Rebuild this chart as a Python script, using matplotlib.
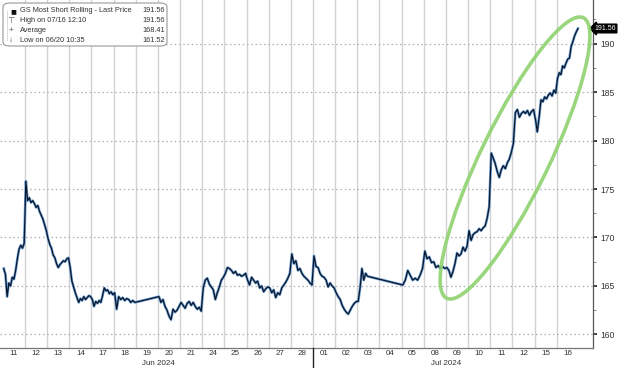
import matplotlib
matplotlib.use("Agg")
import matplotlib.pyplot as plt
from matplotlib.patches import Ellipse, FancyBboxPatch
import matplotlib.transforms as mtransforms

plt.rcParams['font.family'] = ['Liberation Sans', 'DejaVu Sans']

# ---------------- data ----------------
day_labels = ["11", "12", "13", "14", "17", "18", "19", "20", "21", "24", "25", "26", "27", "28",
              "01", "02", "03", "04", "05", "08", "09", "10", "11", "12", "15", "16"]
month_labels = ["Jun 2024", "Jul 2024"]
month_first_day = [0, 14]

jun11 = [166.8, 166.2, 163.9, 165.3, 165.0, 165.9, 165.7, 166.6, 167.8, 168.8, 169.2, 168.9, 169.4]
jun12 = [175.8, 173.8, 174.1, 173.6, 173.8, 173.5, 173.1, 173.3, 172.7, 172.3, 171.9, 171.3, 170.7]
jun13 = [169.9, 169.3, 168.9, 168.2, 167.9, 167.3, 166.9, 167.2, 167.4, 167.6, 167.5, 167.8, 167.9]
jun14 = [166.9, 165.5, 164.9, 164.3, 163.8, 163.3, 163.7, 163.5, 163.9, 163.6, 163.8, 164.0, 163.9]
jun17 = [163.6, 162.9, 163.4, 163.2, 163.5, 163.3, 164.0, 164.8, 164.5, 164.6, 164.2, 164.4, 164.1]
jun18 = [164.3, 162.6, 163.9, 163.6, 163.8, 163.5, 163.7, 163.6, 163.3, 163.5, 163.3]
jun19 = []
jun20 = [163.9, 163.3, 163.6, 162.9, 162.5, 161.9, 161.52, 162.6, 162.3, 162.5, 162.9]
jun21 = [163.3, 163.0, 162.7, 163.2, 163.4, 163.0, 163.3, 162.9, 162.6, 162.8, 162.4]
jun24 = [164.8, 165.6, 165.8, 165.2, 164.9, 164.6, 163.6, 164.3, 164.9, 165.6, 165.9]
jun25 = [166.3, 166.9, 166.8, 166.6, 166.3, 166.5, 166.1, 166.2, 166.0, 166.1, 166.3]
jun26 = [165.6, 165.1, 165.9, 165.6, 165.3, 165.5, 164.8, 165.0, 164.4, 164.7, 164.9]
jun27 = [164.8, 164.3, 164.6, 163.8, 164.3, 164.1, 164.8, 165.1, 165.4, 165.8, 166.3]
jun28 = [168.3, 167.3, 167.6, 166.6, 166.8, 166.3, 166.0, 165.8, 165.6, 165.3, 165.1]
jul01 = [168.1, 167.0, 166.9, 166.3, 166.0, 165.9, 165.6, 164.9, 165.3, 165.0, 164.8]
jul02 = [164.3, 163.9, 163.6, 163.0, 162.6, 162.3, 162.1, 162.5, 162.9, 163.2, 163.4]
jul03 = [163.4, 164.8, 166.8, 165.6, 166.3, 166.0]
jul04 = []
jul05 = [165.1, 165.6, 166.6, 166.1, 165.6, 165.8, 165.6, 166.1, 166.8]
jul08 = [168.6, 167.8, 168.0, 167.4, 167.5, 166.9, 167.1, 166.8, 167.0, 166.8]
jul09 = [166.9, 166.6, 165.9, 166.5, 167.3, 168.4, 168.1, 168.3, 169.0, 168.6, 169.1]
jul10 = [170.7, 169.7, 170.3, 170.5, 170.6, 170.9, 170.7, 171.0, 171.2, 172.0, 173.2]
jul11 = [178.7, 178.2, 177.6, 176.8, 176.2, 177.0, 177.4, 177.1, 177.7, 178.1, 178.8]
jul12 = [179.7, 182.9, 183.2, 182.4, 182.8, 183.0, 182.8, 183.1, 182.6, 183.0, 183.2]
jul15 = [182.2, 180.9, 182.4, 184.2, 184.0, 184.5, 184.3, 184.7, 184.9, 184.6, 185.2, 184.9]
jul16 = [186.4, 187.0, 186.8, 187.7, 187.5, 188.0, 188.4, 188.5, 189.7, 190.2, 190.8, 191.2, 191.56]

sessions = [jun11, jun12, jun13, jun14, jun17, jun18, jun19, jun20, jun21, jun24, jun25, jun26,
            jun27, jun28, jul01, jul02, jul03, jul04, jul05, jul08, jul09, jul10, jul11, jul12,
            jul15, jul16]
session_fraction = [1.0] * 16 + [0.5] + [1.0] * 9   # Jul 3 half day

legend_rows = [("GS Most Short Rolling - Last Price", "191.56"),
               ("High on 07/16 12:10", "191.56"),
               ("Average", "168.41"),
               ("Low on 06/20 10:35", "161.52")]
last_price = 191.56
y_ticks = [160, 165, 170, 175, 180, 185, 190]

# ---------------- build series ----------------
xs, ys = [], []
for d, (vals, frac) in enumerate(zip(sessions, session_fraction)):
    n = len(vals)
    for k, v in enumerate(vals):
        xs.append(d + (k + 0.5) / n * frac)
        ys.append(v)

# ---------------- figure ----------------
W, H = 620, 368
fig = plt.figure(figsize=(W / 100, H / 100), dpi=100)
ax_left, ax_right, ax_bottom, ax_top = 0, 593, 348, 0  # pixel edges
ax = fig.add_axes([ax_left / W, 1 - ax_bottom / H, (ax_right - ax_left) / W, (ax_bottom - ax_top) / H])

ax.set_xlim(-0.13, 26.64)
ax.set_ylim(158.6, 194.5)

# gridlines
for b in range(1, len(day_labels)):
    ax.axvline(b, color="#d2d2d2", lw=1.0, zorder=1)
for t in y_ticks:
    ax.axhline(t, color="#b0b0b0", lw=0.9, ls=(0, (1.2, 2.2)), zorder=1)

# series
ax.plot(xs, ys, color="#6b9fd6", lw=1.9, zorder=3, solid_joinstyle="round")
ax.plot(xs, ys, color="#0b1628", lw=0.9, zorder=4)

# axes styling
for s in ["left", "top"]:
    ax.spines[s].set_visible(False)
ax.spines["right"].set_color("#555555")
ax.spines["bottom"].set_color("#777777")
ax.spines["right"].set_linewidth(0.9)
ax.spines["bottom"].set_linewidth(0.9)

ax.yaxis.tick_right()
ax.set_yticks(y_ticks)
ax.set_yticklabels([str(t) for t in y_ticks])
ax.set_yticks([t + 2.5 for t in y_ticks[:-1]] + [192.5], minor=True)
ax.tick_params(axis="y", which="major", length=3, width=1.2, color="#222222",
               labelsize=6.2, labelcolor="#333333", pad=2)
ax.tick_params(axis="y", which="minor", length=2, width=0.6, color="#777777")

ax.set_xticks([d + 0.5 for d in range(len(day_labels))])
ax.set_xticklabels(day_labels)
ax.tick_params(axis="x", which="major", length=0, labelsize=5.8, labelcolor="#333333", pad=1.5)

# month labels and separator
blend = mtransforms.blended_transform_factory(ax.transData, ax.transAxes)
month_ranges = month_first_day + [len(day_labels)]
for i, lab in enumerate(month_labels):
    cx = (month_ranges[i] + month_ranges[i + 1]) / 2
    ax.text(cx, -0.0455, lab, transform=blend, ha="center", va="center", fontsize=5.8, color="#333333")
ax.plot([month_first_day[1], month_first_day[1]], [0, -0.06], transform=blend,
        color="#222222", lw=1.0, clip_on=False, zorder=5)

# last price tag
bt = mtransforms.blended_transform_factory(fig.transFigure, ax.transData)
ax.text(616 / W, last_price, f"{last_price:.2f}", transform=bt, ha="right", va="center",
        fontsize=5.0, color="white", clip_on=False, zorder=6,
        bbox=dict(boxstyle="larrow,pad=0.12", fc="black", ec="black"))

# legend box (pixel coordinates converted to axes fractions)
def axfrac(px, py):
    return px / (ax_right - ax_left), 1 - py / (ax_bottom - ax_top)

x0, y0 = axfrac(3, 46)
x1, y1 = axfrac(167, 3)
ax.add_patch(FancyBboxPatch((x0, y0), x1 - x0, y1 - y0, transform=ax.transAxes,
                            boxstyle="round,pad=0,rounding_size=0.012", fc="white",
                            ec="#999999", lw=0.8, zorder=7))
row_py = [11, 21, 30.5, 40]
symbols = ["\u25A0", "\u22A4", "+", "\u2193"]
for (lab, val), py, sym in zip(legend_rows, row_py, symbols):
    lx, ly = axfrac(20, py)
    ax.text(lx, ly, lab, transform=ax.transAxes, fontsize=5.3, color="#333333",
            va="center", ha="left", zorder=8)
    vx, _ = axfrac(165, py)
    ax.text(vx, ly, val, transform=ax.transAxes, fontsize=5.3, color="#333333",
            va="center", ha="right", zorder=8)
    sx, _ = axfrac(13 if sym == "\u25A0" else 11, py)
    ax.text(sx, ly, sym, transform=ax.transAxes, fontsize=6 if sym != "\u25A0" else 7,
            color="#111111" if sym == "\u25A0" else "#555555",
            va="center", ha="center", zorder=8)
tx0, ty0 = axfrac(7, 11)
tx1, ty1 = axfrac(7, 40)
ax.plot([tx0, tx1], [ty0, ty1], transform=ax.transAxes, color="#aaaaaa", lw=0.6,
        ls=(0, (1, 1)), zorder=8)

# green highlight ellipse (annotation)
center_day, center_val = 23.12, 178.2
cx_disp, cy_disp = ax.transData.transform((center_day, center_val))
ell = Ellipse((cx_disp, cy_disp), width=312, height=68, angle=64,
              transform=mtransforms.IdentityTransform(), fill=False,
              ec="#8fd26f", lw=2.6, alpha=0.9, zorder=5, clip_on=False)
fig.patches.append(ell)
ell.set_figure(fig)

fig.savefig("out.png", dpi=100, facecolor="white")
